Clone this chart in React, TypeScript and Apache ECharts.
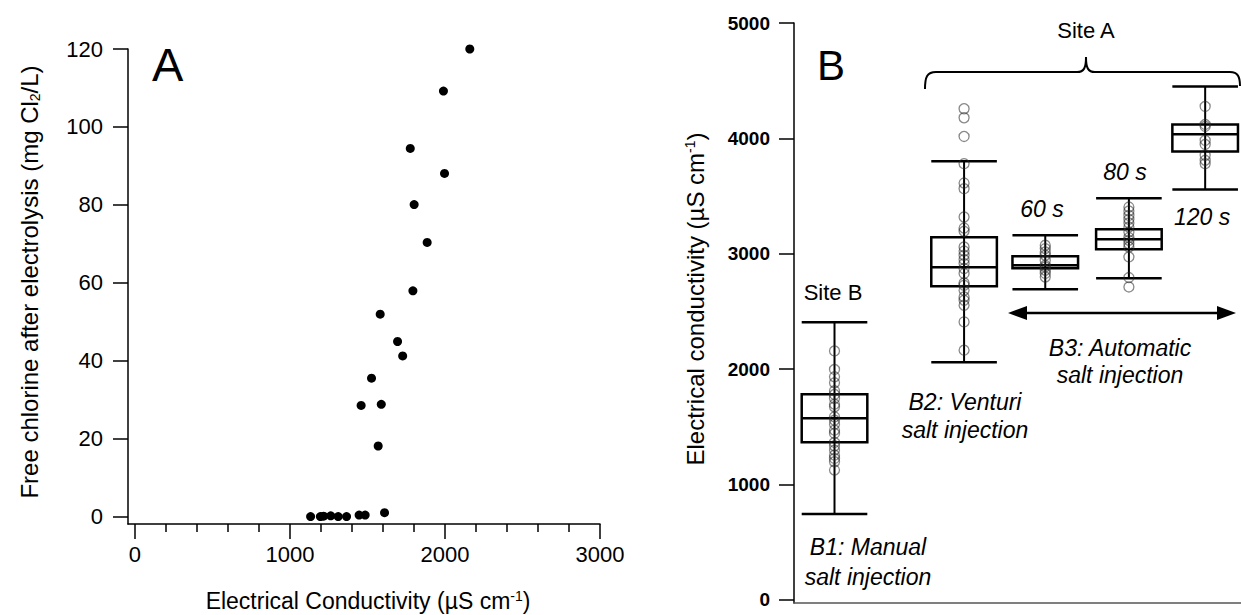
import React, { useEffect, useRef } from "react";
import * as echarts from "echarts";

// ---------- Panel A data ----------
const chlorineEC = [2160, 1990, 1776, 1997, 1801, 1885, 1793, 1582, 1694, 1727, 1526, 1459, 1589, 1569, 1610, 1133, 1196, 1217, 1263, 1311, 1365, 1446, 1485];
const chlorineFree = [120, 109.2, 94.5, 88.1, 80.1, 70.4, 58.0, 52.0, 45.0, 41.3, 35.6, 28.6, 28.9, 18.2, 1.1, 0.1, 0.1, 0.2, 0.3, 0.1, 0.1, 0.5, 0.5];
const aXTicks = [0, 1000, 2000, 3000];
const aXMinorTicks = [200, 400, 600, 800, 1200, 1400, 1600, 1800, 2200, 2400, 2600, 2800];
const aYTicks = [0, 20, 40, 60, 80, 100, 120];

// ---------- Panel B data ----------
const boxGroups = ["B1", "B2", "60 s", "80 s", "120 s"];
const boxPositions = [0, 1.58, 2.57, 3.59, 4.52];
// [lower whisker, Q1, median, Q3, upper whisker]
const boxB1 = [745, 1368, 1576, 1784, 2407];
const boxB2 = [2061, 2719, 2883, 3143, 3801];
const box60 = [2693, 2874, 2900, 2978, 3160];
const box80 = [2788, 3039, 3126, 3212, 3481];
const box120 = [3558, 3887, 4035, 4121, 4450];
const pointsB1 = [2158, 1998, 1934, 1882, 1813, 1781, 1746, 1697, 1674, 1587, 1558, 1524, 1472, 1443, 1365, 1336, 1299, 1255, 1227, 1198, 1126];
const pointsB2 = [4257, 4179, 4017, 3781, 3613, 3564, 3319, 3223, 3195, 3059, 3024, 2987, 2950, 2915, 2872, 2829, 2747, 2727, 2684, 2626, 2597, 2554, 2410, 2165];
const points60 = [3074, 3045, 3016, 2987, 2943, 2900, 2886, 2857, 2830, 2799];
const points80 = [3405, 3371, 3333, 3299, 3267, 3232, 3189, 3141, 3117, 3088, 3059, 2973, 2794, 2713];
const points120 = [4277, 4121, 4104, 3983, 3948, 3853, 3810, 3781];
const bYTicks = [0, 1000, 2000, 3000, 4000, 5000];

const FONT = "Liberation Sans";
const BOX_W = 0.8;

echarts.graphic.registerShape(
  "siteBracket",
  (echarts.graphic as any).extendPath(
    "M925,89 C925,77 927,72 936,72 L1077,72 C1084,72 1086,68 1086,57 C1086,68 1088,72 1095,72 L1230,72 C1238,72 1240,77 1240,86",
    {}
  )
);

export default function App() {
  const ref = useRef<HTMLDivElement>(null);

  useEffect(() => {
    const el = ref.current!;
    const chart = echarts.init(el, null, { renderer: "svg" });

    const boxes = [boxB1, boxB2, box60, box80, box120];
    const pointSets = [pointsB1, pointsB2, points60, points80, points120];
    const boxData = boxes.map((b, i) => ({ name: boxGroups[i], value: [boxPositions[i], ...b] }));
    const pointData: number[][] = [];
    pointSets.forEach((set, i) => set.forEach((v) => pointData.push([boxPositions[i], v])));

    const scatterA = chlorineEC.map((x, i) => [x, chlorineFree[i]]);

    const plain = (v: number) => String(v);
    const labelStyle = { color: "#000", fontFamily: FONT, formatter: plain };
    const makeRich = (size: number) => ({
      n: { fontSize: size, fontFamily: FONT, color: "#000", lineHeight: size + 1 },
      sup: { fontSize: 14, fontFamily: FONT, color: "#000", lineHeight: 14, verticalAlign: "top" },
      sub: { fontSize: 14, fontFamily: FONT, color: "#000", lineHeight: 14, verticalAlign: "bottom" },
    });
    const blackLine = { color: "#000", width: 1.5 };
    const txt = (text: string, x: number, y: number, size: number, extra: any = {}) => ({
      type: "text",
      x,
      y,
      style: {
        text,
        fontSize: size,
        fontFamily: FONT,
        fill: "#000",
        textAlign: "center",
        textVerticalAlign: "middle",
        ...extra,
      },
    });

    const option: any = {
      animation: false,
      backgroundColor: "#fff",
      textStyle: { fontFamily: FONT },
      grid: [
        { left: 128, top: 49, width: 472, height: 475 },
        { left: 794, top: 23, width: 447, height: 580 },
      ],
      xAxis: [
        {
          gridIndex: 0,
          type: "value",
          position: "bottom",
          min: -45,
          max: 3000,
          axisLine: { show: true, onZero: false, lineStyle: blackLine },
          axisTick: { show: true, customValues: aXTicks, length: 15, lineStyle: blackLine },
          axisLabel: { customValues: aXTicks, fontSize: 22, margin: 19, ...labelStyle },
          splitLine: { show: false },
        },
        {
          gridIndex: 0,
          type: "value",
          position: "bottom",
          min: -45,
          max: 3000,
          axisLine: { show: false, onZero: false },
          axisTick: { show: true, customValues: aXMinorTicks, length: 8, lineStyle: blackLine },
          axisLabel: { show: false },
          splitLine: { show: false },
        },
        {
          gridIndex: 1,
          type: "value",
          position: "bottom",
          min: -0.494,
          max: 4.957,
          axisLine: { show: true, onZero: false, lineStyle: { color: "#555", width: 1.5 } },
          axisTick: { show: false },
          axisLabel: { show: false },
          splitLine: { show: false },
        },
      ],
      yAxis: [
        {
          gridIndex: 0,
          type: "value",
          position: "left",
          min: -1.8,
          max: 120,
          axisLine: { show: true, onZero: false, lineStyle: blackLine },
          axisTick: { show: true, customValues: aYTicks, length: 15, lineStyle: blackLine },
          axisLabel: { customValues: aYTicks, fontSize: 22, margin: 25, ...labelStyle },
          splitLine: { show: false },
        },
        {
          gridIndex: 1,
          type: "value",
          position: "left",
          min: -26,
          max: 5000,
          axisLine: { show: true, onZero: false, lineStyle: blackLine },
          axisTick: { show: true, customValues: bYTicks, length: 15, lineStyle: blackLine },
          axisLabel: { customValues: bYTicks, fontSize: 19, fontWeight: "bold", margin: 24, ...labelStyle },
          splitLine: { show: false },
        },
      ],
      series: [
        {
          type: "scatter",
          xAxisIndex: 0,
          yAxisIndex: 0,
          data: scatterA,
          symbol: "circle",
          symbolSize: 9,
          itemStyle: { color: "#000", opacity: 1 },
          z: 3,
        },
        {
          type: "custom",
          xAxisIndex: 2,
          yAxisIndex: 1,
          data: boxData,
          z: 2,
          renderItem: (params: any, api: any) => {
            const x = api.value(0);
            const lo = api.coord([x, api.value(1)]);
            const q1 = api.coord([x, api.value(2)]);
            const md = api.coord([x, api.value(3)]);
            const q3 = api.coord([x, api.value(4)]);
            const hi = api.coord([x, api.value(5)]);
            const half = api.size([BOX_W, 0])[0] / 2;
            const cx = lo[0];
            const s = { stroke: "#000", lineWidth: 2.5, fill: "none" };
            return {
              type: "group",
              children: [
                { type: "line", shape: { x1: cx, y1: hi[1], x2: cx, y2: lo[1] }, style: { stroke: "#000", lineWidth: 2 } },
                { type: "line", shape: { x1: cx - half, y1: hi[1], x2: cx + half, y2: hi[1] }, style: s },
                { type: "line", shape: { x1: cx - half, y1: lo[1], x2: cx + half, y2: lo[1] }, style: s },
                { type: "rect", shape: { x: cx - half, y: q3[1], width: 2 * half, height: q1[1] - q3[1] }, style: s },
                { type: "line", shape: { x1: cx - half, y1: md[1], x2: cx + half, y2: md[1] }, style: s },
              ],
            };
          },
        },
        {
          type: "scatter",
          xAxisIndex: 2,
          yAxisIndex: 1,
          data: pointData,
          symbol: "circle",
          symbolSize: 10,
          itemStyle: { color: "rgba(255,255,255,0)", borderColor: "rgba(40,40,40,0.55)", borderWidth: 1.3, opacity: 1 },
          z: 3,
        },
      ],
      graphic: [
        // axis titles
        {
          type: "text",
          x: 368,
          y: 601,
          style: {
            text: "{n|Electrical Conductivity (µS cm}{sup|-1}{n|)}",
            rich: makeRich(23),
            textAlign: "center",
            textVerticalAlign: "middle",
          },
        },
        {
          type: "text",
          x: 29,
          y: 282,
          rotation: Math.PI / 2,
          style: {
            text: "{n|Free chlorine after electrolysis (mg Cl}{sub|2}{n|/L)}",
            rich: makeRich(24),
            textAlign: "center",
            textVerticalAlign: "middle",
          },
        },
        {
          type: "text",
          x: 695,
          y: 299,
          rotation: Math.PI / 2,
          style: {
            text: "{n|Electrical conductivity (µS cm}{sup|-1}{n|)}",
            rich: makeRich(24),
            textAlign: "center",
            textVerticalAlign: "middle",
          },
        },
        // panel letters
        txt("A", 152, 64, 47, { textAlign: "left" }),
        txt("B", 817, 65, 42, { textAlign: "left" }),
        // annotations
        txt("Site A", 1086, 30, 22),
        txt("Site B", 833, 292, 22),
        txt("60 s", 1042, 209, 23, { fontStyle: "italic" }),
        txt("80 s", 1125, 172, 23, { fontStyle: "italic" }),
        txt("120 s", 1202, 217, 23, { fontStyle: "italic" }),
        txt("B1: Manual\nsalt injection", 868, 562, 23, { fontStyle: "italic", lineHeight: 30 }),
        txt("B2: Venturi\nsalt injection", 965, 416, 23, { fontStyle: "italic", lineHeight: 28 }),
        txt("B3: Automatic\nsalt injection", 1120, 361, 23, { fontStyle: "italic", lineHeight: 27 }),
        { type: "siteBracket", x: 0, y: 0, style: { stroke: "#000", lineWidth: 2, fill: "none" } },
        { type: "line", shape: { x1: 1022, y1: 313, x2: 1222, y2: 313 }, style: { stroke: "#000", lineWidth: 2.5 } },
        { type: "polygon", shape: { points: [[1008, 313], [1027, 306], [1027, 320]] }, style: { fill: "#000" } },
        { type: "polygon", shape: { points: [[1236, 313], [1217, 306], [1217, 320]] }, style: { fill: "#000" } },
      ],
    };

    chart.setOption(option);
    return () => chart.dispose();
  }, []);

  return (
    <div
      ref={ref}
      style={{ position: "fixed", left: 0, top: 0, width: 1241, height: 615, background: "#fff" }}
    />
  );
}
